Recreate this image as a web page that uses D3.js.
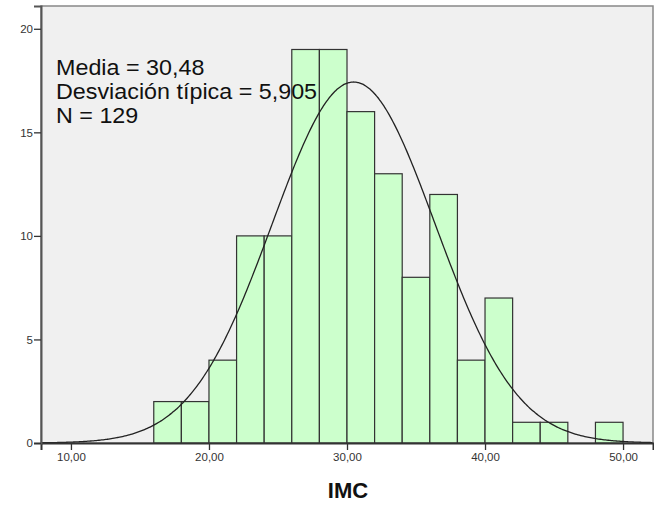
<!DOCTYPE html>
<html>
<head>
<meta charset="utf-8">
<script src="https://cdn.jsdelivr.net/npm/d3@7"></script>
<style>
  body { margin: 0; background: #fff; }
  svg text { font-family: Arial, "Liberation Sans", sans-serif; }
</style>
</head>
<body>
<div id="chart"></div>
<script>
// histogram of IMC, bins of width 2
const binStarts = [16, 18, 20, 22, 24, 26, 28, 30, 32, 34, 36, 38, 40, 42, 44, 46, 48];
const counts    = [2, 2, 4, 10, 10, 19, 19, 16, 13, 8, 12, 4, 7, 1, 1, 0, 1];
const binWidth = 2;
const xTicks = [10, 20, 30, 40, 50];
const yTicks = [0, 5, 10, 15, 20];
const mean = 30.48, sd = 5.905, n = 129;
const statLines = ["Media = 30,48", "Desviación típica = 5,905", "N = 129"];

let svg = d3.select("#chart").append("svg")
    .attr("width", 654)
    .attr("height", 506);

let plotL = 41, plotR = 653, plotT = 6, plotB = 443;

let x = d3.scaleLinear().domain([7.83, 52.17]).range([plotL, plotR]),
    y = d3.scaleLinear().domain([0, 21.1]).range([plotB, plotT]);

// plot background
svg.append("rect")
    .attr("x", plotL).attr("y", plotT)
    .attr("width", plotR - plotL).attr("height", plotB - plotT)
    .attr("fill", "#f0f0f0")
    .attr("stroke", "#888")
    .attr("stroke-width", 1.5);

let fmt = d => d3.format(".2f")(d).replace(".", ",");

// bars
svg.append("g").selectAll("rect")
    .data(counts.map((c, i) => ({ k: binStarts[i], v: c })).filter(d => d.v > 0))
    .enter().append("rect")
    .attr("x", d => x(d.k))
    .attr("y", d => y(d.v))
    .attr("width", d => x(d.k + binWidth) - x(d.k))
    .attr("height", d => y(0) - y(d.v))
    .attr("fill", "#ccffcc")
    .attr("stroke", "#333")
    .attr("stroke-width", 1.2);

// normal curve
let pdf = v => n * binWidth * Math.exp(-0.5 * Math.pow((v - mean) / sd, 2)) / (sd * Math.sqrt(2 * Math.PI));
let curvePts = d3.range(x.domain()[0], x.domain()[1] + 0.01, 0.1);
let line = d3.line()
    .curve(d3.curveBasis)
    .x(d => x(d))
    .y(d => y(pdf(d)));
svg.append("path")
    .datum(curvePts)
    .attr("d", line)
    .attr("fill", "none")
    .attr("stroke", "#222")
    .attr("stroke-width", 1.3);

// axes
let xAxis = svg.append("g")
    .attr("transform", "translate(0," + plotB + ")")
    .call(d3.axisBottom(x).tickValues(xTicks).tickSize(7).tickPadding(3).tickFormat(fmt));
xAxis.select(".domain").attr("stroke", "#333").attr("stroke-width", 2);
xAxis.selectAll(".tick line").attr("stroke", "#333").attr("stroke-width", 1.3);
xAxis.selectAll(".tick text").attr("font-size", 11.5).attr("fill", "#333");

let yAxis = svg.append("g")
    .attr("transform", "translate(" + plotL + ",0)")
    .call(d3.axisLeft(y).tickValues(yTicks).tickSize(7).tickPadding(1));
yAxis.select(".domain").attr("stroke", "#555").attr("stroke-width", 2);
yAxis.selectAll(".tick line").attr("stroke", "#333").attr("stroke-width", 1.3);
yAxis.selectAll(".tick text").attr("font-size", 11.5).attr("fill", "#333");

// axis title
svg.append("text")
    .attr("x", 348).attr("y", 498)
    .attr("text-anchor", "middle")
    .attr("font-size", 22)
    .attr("font-weight", "bold")
    .attr("fill", "#111")
    .text("IMC");

// stats
svg.append("g")
    .attr("transform", "translate(56,0) scale(1.06,1)")
    .selectAll("text")
    .data(statLines)
    .enter().append("text")
    .attr("x", 0)
    .attr("y", (d, i) => 75 + i * 24)
    .attr("font-size", 22)
    .attr("fill", "#111")
    .text(d => d);
</script>
</body>
</html>
